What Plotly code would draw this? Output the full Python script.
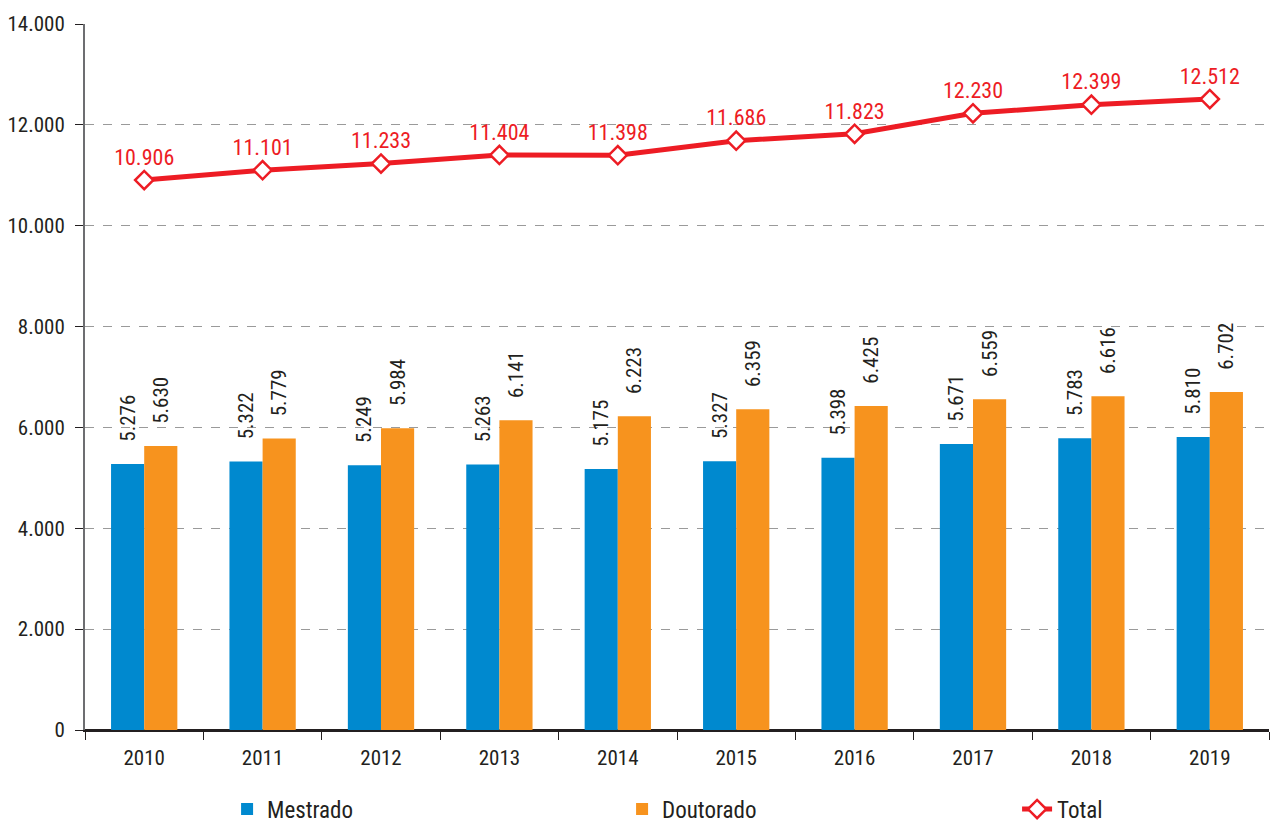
import plotly.graph_objects as go

years = ["2010", "2011", "2012", "2013", "2014", "2015", "2016", "2017", "2018", "2019"]
mestrado = [5276, 5322, 5249, 5263, 5175, 5327, 5398, 5671, 5783, 5810]
doutorado = [5630, 5779, 5984, 6141, 6223, 6359, 6425, 6559, 6616, 6702]
total = [10906, 11101, 11233, 11404, 11398, 11686, 11823, 12230, 12399, 12512]

FONT = "Roboto Condensed, Liberation Sans Narrow, Arial Narrow, sans-serif"
BLUE = "#0089CF"
ORANGE = "#F7931E"
RED = "#ED1C24"
DARK = "#231F20"
PAD = "\u00a0" * 4  # gap between bar top and its label

fig = go.Figure()

for name, vals, color in [("Mestrado", mestrado, BLUE), ("Doutorado", doutorado, ORANGE)]:
    fig.add_trace(go.Bar(
        x=years, y=vals, name=name,
        marker_color=color, marker_line_width=0,
        texttemplate=PAD + "%{y:,}", textposition="outside", textangle=-90,
        constraintext="none",
        textfont=dict(size=21, color=DARK, family=FONT),
        cliponaxis=False,
    ))

fig.add_trace(go.Scatter(
    x=years, y=total, name="Total",
    mode="lines+markers+text",
    line=dict(color=RED, width=5),
    marker=dict(symbol="diamond", size=14, color="white",
                line=dict(color=RED, width=2.5)),
    texttemplate="%{y:,}", textposition="top center",
    textfont=dict(size=22, color=RED, family=FONT),
    cliponaxis=False,
))

# page body adds an 8px offset, so the figure is sized to compensate
fig.update_layout(
    width=1271, height=817,
    margin=dict(l=77, r=10, t=16, b=95, autoexpand=False),
    paper_bgcolor="white", plot_bgcolor="white",
    font=dict(family=FONT, size=21, color=DARK),
    separators=",.",
    barmode="group", bargap=0.44, bargroupgap=0,
    showlegend=True,
    legend=dict(
        orientation="h", x=0.12, xanchor="left",
        y=-0.112, yanchor="middle",
        font=dict(size=23, family=FONT, color=DARK),
        entrywidth=350, entrywidthmode="pixels",
    ),
    xaxis=dict(
        type="category", range=[-0.5, 9.5], automargin=False,
        showline=True, linecolor=DARK, linewidth=2,
        ticks="outside", tickson="boundaries", ticklen=8, tickcolor=DARK,
        ticklabelstandoff=8,
        tickfont=dict(size=21), showgrid=False,
    ),
    yaxis=dict(
        range=[0, 14000], dtick=2000, tickformat=",", automargin=False,
        showline=True, linecolor="#6D6E71", linewidth=2,
        ticks="outside", ticklen=8, tickcolor=DARK,
        ticklabelstandoff=6,
        showgrid=True, gridcolor="#9A9A9A", griddash="dash", gridwidth=1,
        zeroline=True, zerolinecolor=DARK, zerolinewidth=2,
        tickfont=dict(size=21),
    ),
)

fig.write_html("out.html")
